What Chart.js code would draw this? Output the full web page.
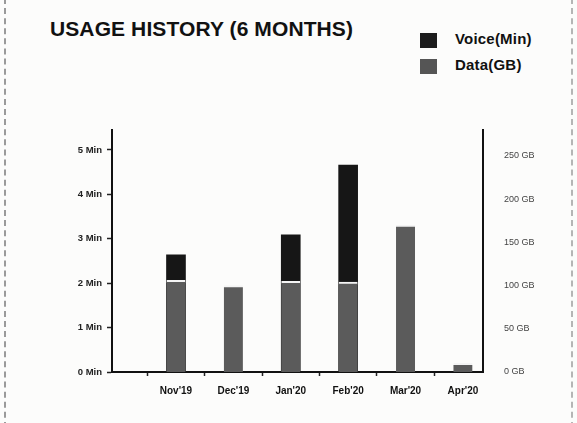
<!DOCTYPE html>
<html>
<head>
<meta charset="utf-8">
<script src="https://cdn.jsdelivr.net/npm/chart.js@4"></script>
<style>
  html, body { margin: 0; padding: 0; background: #fcfcfb; }
  #wrap { position: relative; width: 577px; height: 423px; overflow: hidden; }
  #frame { position: absolute; left: 4px; top: -2px; width: 565px; height: 440px;
           border-left: 2px dashed #9a9a9a; border-right: 2px dashed #b5b5b5; }
  #titre { position: absolute; left: 50px; top: 17px; font: bold 21px "Liberation Sans", Arial, sans-serif;
           color: #111; letter-spacing: 0.1px; }
  .leg { position: absolute; left: 420px; font: bold 15px "Liberation Sans", Arial, sans-serif; color: #111; letter-spacing: 0.2px; }
  .leg span { display: inline-block; width: 17px; height: 15px; vertical-align: middle; margin-right: 18px; }
  canvas { position: absolute; left: 0; top: 0; }
</style>
</head>
<body>
<div id="wrap">
  <div id="frame"></div>
  <div id="titre">USAGE HISTORY (6 MONTHS)</div>
  <div class="leg" style="top:30px"><span style="background:#1c1c1c"></span>Voice(Min)</div>
  <div class="leg" style="top:56px"><span style="background:#555"></span>Data(GB)</div>
  <canvas id="grafic" width="577" height="423"></canvas>
</div>
<script>
// dades llegides de la imatge
const mesos = ["Nov'19", "Dec'19", "Jan'20", "Feb'20", "Mar'20", "Apr'20"];
const veu = [2.64, 0, 3.09, 4.66, 0, 0];          // minuts (eix esquerre)
const dades = [106, 100, 105, 104, 170, 10];      // GB (eix dret)
const ticksMin = [0, 1, 2, 3, 4, 5];
const ticksGB = [0, 50, 100, 150, 200, 250];

const ctx = document.getElementById('grafic').getContext('2d');
new Chart(ctx, {
    type: 'bar',
    data: {
        datasets: [
            {
                label: 'Data(GB)',
                data: mesos.map((m, i) => ({ x: i, y: dades[i] })),
                yAxisID: 'yGB',
                backgroundColor: '#5b5b5b',
                borderColor: '#f4f4f4',
                borderWidth: { top: 2, left: 0, right: 0, bottom: 0 },
                barThickness: 19,
                grouped: false,
                order: 1
            },
            {
                label: 'Voice(Min)',
                data: mesos.map((m, i) => ({ x: i, y: veu[i] })),
                yAxisID: 'yMin',
                backgroundColor: '#161616',
                barThickness: 19,
                grouped: false,
                order: 2
            }
        ]
    },
    options: {
        responsive: false,
        animation: false,
        layout: { padding: { left: 0, right: 0, top: 130, bottom: 17 } },
        plugins: { legend: { display: false }, tooltip: { enabled: false } },
        scales: {
            x: {
                type: 'linear',
                offset: false,
                min: -1.115,
                max: 5.35,
                afterBuildTicks: s => { s.ticks = mesos.map((m, i) => ({ value: i })); },
                ticks: {
                    callback: v => mesos[v],
                    autoSkip: false,
                    maxRotation: 0,
                    color: '#111',
                    font: { family: 'Liberation Sans', size: 10, weight: 'bold' },
                    padding: 9
                },
                grid: { display: true, drawOnChartArea: false, tickLength: 4, color: '#222', tickWidth: 1.5 },
                border: { color: '#111', width: 2 }
            },
            yMin: {
                position: 'left',
                min: 0,
                max: 5.45,
                afterBuildTicks: s => { s.ticks = ticksMin.map(v => ({ value: v })); },
                afterFit: s => { s.width = 112; },
                ticks: {
                    callback: v => v + ' Min',
                    color: '#222',
                    font: { family: 'Liberation Sans', size: 9.5, weight: 'bold' },
                    padding: 5
                },
                grid: { display: true, drawOnChartArea: false, tickLength: 5, color: '#222', tickWidth: 1.5 },
                border: { color: '#111', width: 2 }
            },
            yGB: {
                position: 'right',
                min: 0,
                max: 280,
                afterBuildTicks: s => { s.ticks = ticksGB.map(v => ({ value: v })); },
                afterFit: s => { s.width = 94; },
                ticks: {
                    callback: v => v + ' GB',
                    color: '#444',
                    font: { family: 'Liberation Sans', size: 9 },
                    padding: 13
                },
                grid: { display: false, drawOnChartArea: false },
                border: { color: '#111', width: 2 }
            }
        }
    }
});
</script>
</body>
</html>
